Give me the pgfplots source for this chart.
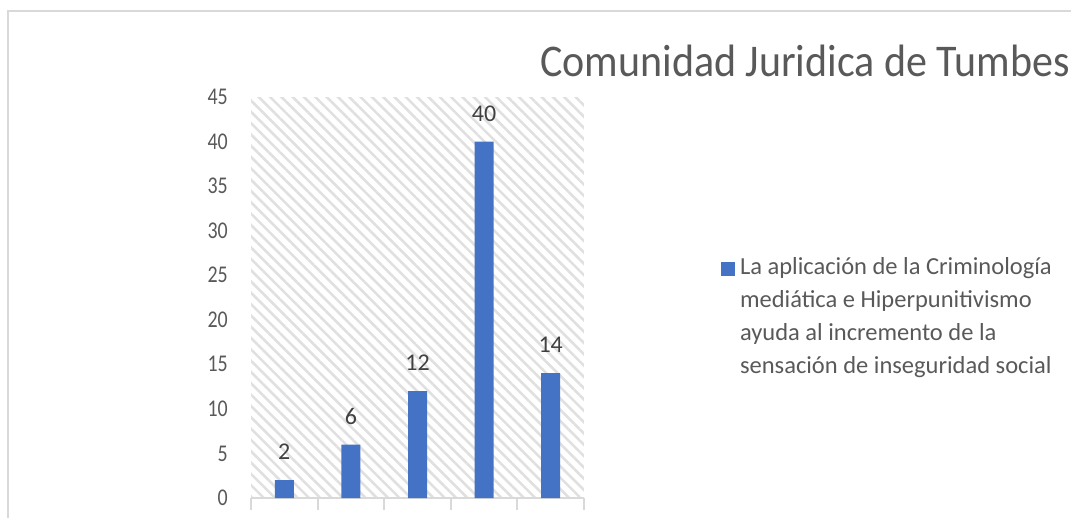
\documentclass[border=0pt]{standalone}
\usepackage{fontspec}
\setmainfont{Carlito}
\usepackage{pgfplots}
\pgfplotsset{compat=1.18}
\usetikzlibrary{patterns.meta}
\definecolor{barc}{HTML}{4472C4}
\definecolor{txt}{HTML}{595959}
\definecolor{lab}{HTML}{404040}
\definecolor{framec}{HTML}{D9D9D9}
\definecolor{hatch}{HTML}{E0E0E0}
\begin{document}
\begin{tikzpicture}[x=1pt,y=1pt]
\useasboundingbox (0,0) rectangle (1071,517);
\begin{scope}
\clip (0,0) rectangle (1071,517);
\draw[framec, line width=2pt] (7.5,-10) -- (7.5,506) -- (1100,506);
\end{scope}
\node[anchor=base west, text=txt, font=\fontsize{42}{50}\selectfont, inner sep=0pt] at (540,440) {\scalebox{1.0}[1.08]{Comunidad Juridica de Tumbes}};
\begin{axis}[
  at={(251pt,19pt)}, anchor=south west,
  scale only axis, width=333pt, height=401pt,
  xmin=0.5, xmax=5.5, ymin=0, ymax=45,
  axis x line*=bottom, axis y line*=left,
  x axis line style={framec, line width=2pt},
  y axis line style={draw=none},
  axis background/.style={pattern={Lines[angle=-45,distance=8pt,line width=2.6pt]}, pattern color=hatch},
  xtick={0.5,1.5,2.5,3.5,4.5,5.5}, xticklabels={},
  tick align=outside, major tick length=12pt,
  xtick style={framec, line width=2pt},
  ytick={0,5,...,45}, ytick style={draw=none},
  /pgf/number format/assume math mode=true,
  yticklabel={\scalebox{0.83}[1]{\pgfmathprintnumber{\tick}}},
  yticklabel style={font=\fontsize{24}{24}\selectfont, text=txt, anchor=east, inner sep=0pt, xshift=-11pt},
  ybar, bar width=19pt,
  nodes near coords,
  every node near coord/.append style={font=\fontsize{24}{24}\selectfont, text=lab, anchor=center, yshift=28pt},
  legend style={draw=none, fill=none, at={(1.411,0.60)}, anchor=north west, inner sep=0pt,
    font=\fontsize{24.5}{33}\selectfont, text=txt, cells={align=left}, nodes={inner sep=0pt}, column sep=5pt},
  legend cell align=left,
  legend image code/.code={\fill[barc] (0pt,40pt) rectangle (14pt,54pt);},
  clip=false,
]
\addplot[fill=barc, draw=none] coordinates {(1,2) (2,6) (3,12) (4,40) (5,14)};
\addlegendentry{La aplicación de la Criminología\\mediática e Hiperpunitivismo\\ayuda al incremento de la\\sensación de inseguridad social}
\end{axis}
\end{tikzpicture}
\end{document}
